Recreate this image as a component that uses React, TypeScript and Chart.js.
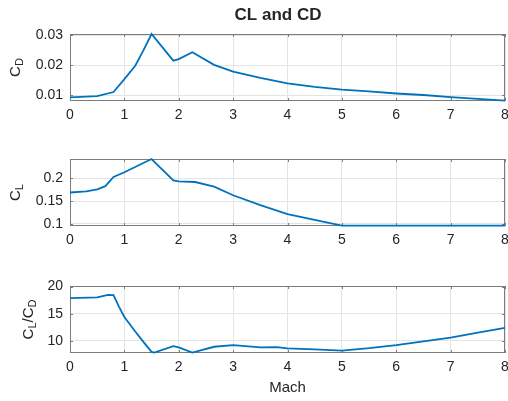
import React, { useEffect, useRef } from "react";
import { Chart, registerables } from "chart.js";

Chart.register(...registerables);

// ---------- data ----------
const MACH_TICKS = [0, 1, 2, 3, 4, 5, 6, 7, 8];
const MACH_TICK_LABELS = ["0", "1", "2", "3", "4", "5", "6", "7", "8"];

const MACH_CD = [0, 0.5, 0.8, 1.0, 1.2, 1.35, 1.5, 1.9, 2.0, 2.25, 2.65, 3.0, 3.5, 4.0, 4.5, 5.0, 5.5, 6.0, 6.5, 7.0, 7.5, 8.0];
const CD = [0.0093, 0.0097, 0.0111, 0.0154, 0.0199, 0.025, 0.0305, 0.0216, 0.0221, 0.0244, 0.0202, 0.0179, 0.0158, 0.014, 0.0128, 0.0119, 0.0113, 0.0106, 0.0101, 0.0094, 0.0088, 0.0082];
const CD_TICKS = [0.01, 0.02, 0.03];
const CD_TICK_LABELS = ["0.01", "0.02", "0.03"];

const MACH_CL = [0, 0.3, 0.5, 0.65, 0.8, 1.0, 1.5, 1.9, 2.0, 2.3, 2.65, 3.0, 3.5, 4.0, 4.5, 5.0, 6.0, 7.0, 8.0];
const CL = [0.169, 0.1715, 0.176, 0.183, 0.203, 0.2135, 0.2425, 0.1955, 0.1935, 0.192, 0.182, 0.163, 0.1413, 0.1217, 0.109, 0.0962, 0.0962, 0.0962, 0.0962];
const CL_TICKS = [0.1, 0.15, 0.2];
const CL_TICK_LABELS = ["0.1", "0.15", "0.2"];

const MACH_LD = [0, 0.5, 0.7, 0.8, 0.9, 1.0, 1.2, 1.35, 1.5, 1.55, 1.9, 2.0, 2.25, 2.65, 3.0, 3.5, 3.8, 4.0, 4.5, 5.0, 5.5, 6.0, 6.5, 7.0, 7.5, 8.0];
const LD = [17.85, 18.0, 18.45, 18.4, 16.3, 14.4, 11.7, 9.8, 7.96, 7.82, 9.0, 8.8, 7.84, 8.9, 9.2, 8.8, 8.83, 8.6, 8.4, 8.2, 8.64, 9.2, 9.88, 10.6, 11.5, 12.4];
const LD_TICKS = [10, 15, 20];
const LD_TICK_LABELS = ["10", "15", "20"];

// ---------- style ----------
const FONT = "'Liberation Sans', Arial, Helvetica, sans-serif";
const TEXT = "#262626";
const LINE = "#0072BD";
const GRID = "#e4e4e4";
const BOX = "#7c7c7c";

type Seg = { t: string; sub?: boolean };

function drawRotatedLabel(ctx: CanvasRenderingContext2D, segs: Seg[], cx: number, cy: number) {
  const mainFont = `15px ${FONT}`;
  const subFont = `11px ${FONT}`;
  ctx.save();
  let total = 0;
  const widths: number[] = [];
  for (const s of segs) {
    ctx.font = s.sub ? subFont : mainFont;
    const w = ctx.measureText(s.t).width;
    widths.push(w);
    total += w;
  }
  ctx.translate(cx, cy);
  ctx.rotate(-Math.PI / 2);
  ctx.fillStyle = TEXT;
  ctx.textBaseline = "alphabetic";
  ctx.textAlign = "left";
  let x = -total / 2;
  segs.forEach((s, i) => {
    ctx.font = s.sub ? subFont : mainFont;
    ctx.fillText(s.t, x, s.sub ? 9 : 5.5);
    x += widths[i];
  });
  ctx.restore();
}

type PanelProps = {
  top: number;
  height: number;
  bottomH: number;
  xs: number[];
  ys: number[];
  yMin: number;
  yMax: number;
  yTicks: number[];
  yTickLabels: string[];
  yLabel: Seg[];
  yLabelX: number;
  title?: string;
  xTitle?: string;
};

function Panel(p: PanelProps) {
  const ref = useRef<HTMLCanvasElement | null>(null);
  useEffect(() => {
    if (!ref.current) return;
    const decor = {
      id: "decor",
      beforeDatasetsDraw(chart: any) {
        const ctx = chart.ctx as CanvasRenderingContext2D;
        const a = chart.chartArea;
        const xs = chart.scales.x;
        const ys = chart.scales.y;
        ctx.save();
        ctx.strokeStyle = BOX;
        ctx.lineWidth = 1;
        ctx.strokeRect(Math.round(a.left) + 0.5, Math.round(a.top) + 0.5, Math.round(a.right - a.left) - 1, Math.round(a.bottom - a.top) - 1);
        ctx.beginPath();
        const tl = 3;
        for (const v of MACH_TICKS) {
          const px = Math.round(xs.getPixelForValue(v)) + 0.5;
          ctx.moveTo(px, a.bottom);
          ctx.lineTo(px, a.bottom - tl);
          ctx.moveTo(px, a.top);
          ctx.lineTo(px, a.top + tl);
        }
        for (const v of p.yTicks) {
          const py = Math.round(ys.getPixelForValue(v)) + 0.5;
          ctx.moveTo(a.left, py);
          ctx.lineTo(a.left + tl, py);
          ctx.moveTo(a.right, py);
          ctx.lineTo(a.right - tl, py);
        }
        ctx.stroke();
        ctx.restore();
      },
      afterDraw(chart: any) {
        const ctx = chart.ctx as CanvasRenderingContext2D;
        const a = chart.chartArea;
        drawRotatedLabel(ctx, p.yLabel, p.yLabelX, (a.top + a.bottom) / 2);
        if (p.title) {
          ctx.save();
          ctx.font = `bold 17px ${FONT}`;
          ctx.fillStyle = TEXT;
          ctx.textAlign = "center";
          ctx.textBaseline = "middle";
          ctx.fillText(p.title, 278, 15);
          ctx.restore();
        }
      },
    };
    const chart = new Chart(ref.current, {
      type: "line",
      data: {
        datasets: [
          {
            data: p.xs.map((x, i) => ({ x, y: p.ys[i] })),
            borderColor: LINE,
            borderWidth: 1.8,
            pointRadius: 0,
            tension: 0,
            fill: false,
            clip: 2,
          },
        ],
      },
      options: {
        responsive: false,
        animation: false,
        devicePixelRatio: 1,
        layout: { padding: { top: 34, right: 3, left: 0, bottom: 0 } },
        plugins: { legend: { display: false }, tooltip: { enabled: false }, title: { display: false } },
        scales: {
          x: {
            type: "linear",
            min: 0,
            max: 8,
            afterBuildTicks: (s: any) => {
              s.ticks = MACH_TICKS.map((v) => ({ value: v }));
            },
            afterFit: (s: any) => {
              s.height = p.bottomH;
              s.paddingLeft = 0;
              s.paddingRight = 0;
            },
            ticks: {
              padding: 6,
              color: TEXT,
              font: { family: FONT, size: 14 },
              maxRotation: 0,
              autoSkip: false,
              callback: (v: any) => MACH_TICK_LABELS[MACH_TICKS.indexOf(Number(v))] ?? "",
            },
            grid: { color: GRID, drawTicks: false },
            border: { display: false },
            title: p.xTitle
              ? { display: true, text: p.xTitle, color: TEXT, font: { family: FONT, size: 15 }, padding: { top: 0, bottom: 4 } }
              : { display: false },
          },
          y: {
            type: "linear",
            min: p.yMin,
            max: p.yMax,
            afterBuildTicks: (s: any) => {
              s.ticks = p.yTicks.map((v) => ({ value: v }));
            },
            afterFit: (s: any) => {
              s.width = 70;
              s.paddingTop = 0;
              s.paddingBottom = 0;
            },
            ticks: {
              padding: 7,
              color: TEXT,
              font: { family: FONT, size: 14 },
              callback: (v: any) => {
                const i = p.yTicks.findIndex((t) => Math.abs(t - Number(v)) < 1e-9);
                return i >= 0 ? p.yTickLabels[i] : "";
              },
            },
            grid: { color: GRID, drawTicks: false },
            border: { display: false },
          },
        },
      },
      plugins: [decor],
    } as any);
    return () => chart.destroy();
  }, []);
  return (
    <canvas
      ref={ref}
      width={508}
      height={p.height}
      style={{ position: "absolute", left: 0, top: p.top, width: 508, height: p.height, display: "block" }}
    />
  );
}

export default function App() {
  return (
    <div style={{ position: "fixed", left: 0, top: 0, width: 508, height: 401, background: "#fff", overflow: "hidden" }}>
      <Panel
        top={0}
        height={126}
        bottomH={25}
        xs={MACH_CD}
        ys={CD}
        yMin={0.0081}
        yMax={0.0305}
        yTicks={CD_TICKS}
        yTickLabels={CD_TICK_LABELS}
        yLabel={[{ t: "C" }, { t: "D", sub: true }]}
        yLabelX={14}
        title="CL and CD"
      />
      <Panel
        top={125}
        height={126}
        bottomH={25}
        xs={MACH_CL}
        ys={CL}
        yMin={0.0955}
        yMax={0.2425}
        yTicks={CL_TICKS}
        yTickLabels={CL_TICK_LABELS}
        yLabel={[{ t: "C" }, { t: "L", sub: true }]}
        yLabelX={14}
      />
      <Panel
        top={252}
        height={149}
        bottomH={48}
        xs={MACH_LD}
        ys={LD}
        yMin={7.75}
        yMax={20.1}
        yTicks={LD_TICKS}
        yTickLabels={LD_TICK_LABELS}
        yLabel={[{ t: "C" }, { t: "L", sub: true }, { t: "/" }, { t: "C" }, { t: "D", sub: true }]}
        yLabelX={27}
        xTitle="Mach"
      />
    </div>
  );
}
